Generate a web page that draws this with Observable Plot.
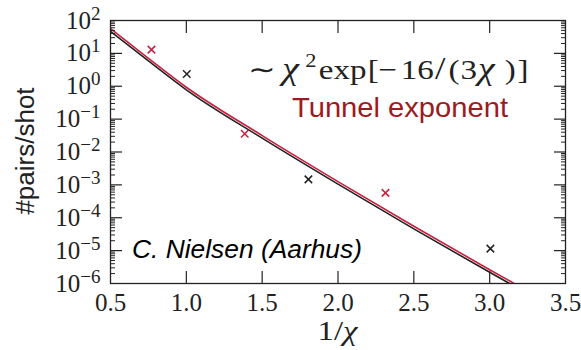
<!DOCTYPE html>
<html><head><meta charset="utf-8">
<script src="https://cdn.jsdelivr.net/npm/d3@7"></script>
<script src="https://cdn.jsdelivr.net/npm/@observablehq/plot@0.6"></script>
<style>body{margin:0;background:#fff}</style>
</head><body><div id="chart"></div>
<script>
// measured points (x = 1/chi)
const redX = [0.77, 1.385, 2.313];
const redY = [13, 0.036, 5.7e-4];
const blackX = [1.003, 1.805, 3.005];
const blackY = [2.36, 1.47e-3, 1.15e-5];
// curves
const curveX = [0.5, 0.75, 1.0, 1.5, 2.0, 2.5, 3.0, 3.17];
const redCurveY = [56.2, 7.08, 0.933, 0.0316, 1.26e-3, 5.5e-5, 2.63e-6, 9.5e-7];
const blackCurveY = [46.8, 5.89, 0.776, 0.0263, 1.05e-3, 4.58e-5, 2.19e-6, 7.9e-7];
// ticks
const xTicks = [0.5, 1.0, 1.5, 2.0, 2.5, 3.0, 3.5];
const yExps = [2, 1, 0, -1, -2, -3, -4, -5, -6];
const minorMult = [2, 3, 4, 5, 6, 7, 8, 9];

const RED = "#c8203e", BLACK = "#222";
const yMajor = yExps.map(e => Math.pow(10, e));
const yMinor = [];
for (const e of yExps.slice(1)) for (const m of minorMult) yMinor.push(m * Math.pow(10, e));

const redPts = redX.map((x, i) => ({x, y: redY[i]}));
const blackPts = blackX.map((x, i) => ({x, y: blackY[i]}));
const redCurve = curveX.map((x, i) => ({x, y: redCurveY[i]}));
const blackCurve = curveX.map((x, i) => ({x, y: blackCurveY[i]}));

const serif = "Liberation Serif";
const sans = "Liberation Sans";

const plot = Plot.plot({
  width: 581, height: 350,
  marginLeft: 110, marginRight: 16, marginTop: 20, marginBottom: 67,
  style: {fontFamily: serif, fontSize: "25px", background: "#fff", color: BLACK},
  x: {domain: [0.5, 3.5]},
  y: {type: "log", domain: [1e-6, 1e2]},
  marks: [
    Plot.line(blackCurve, {x: "x", y: "y", stroke: BLACK, strokeWidth: 1.6, clip: true, curve: "monotone-x"}),
    Plot.line(redCurve, {x: "x", y: "y", stroke: RED, strokeWidth: 1.6, clip: true, curve: "monotone-x"}),
    Plot.dot(redPts, {x: "x", y: "y", symbol: "times", r: 3.5, stroke: RED, strokeWidth: 1.5}),
    Plot.dot(blackPts, {x: "x", y: "y", symbol: "times", r: 3.5, stroke: BLACK, strokeWidth: 1.5}),
    Plot.axisX({ticks: xTicks, tickSize: 0, tickPadding: 10, tickFormat: d3.format(".1f"), label: null, fontSize: 25, fontFamily: serif}),
    Plot.axisX({anchor: "bottom", ticks: xTicks.slice(1, -1), tickSize: -12, tickFormat: () => "", label: null, stroke: BLACK, strokeWidth: 1.2}),
    Plot.axisX({anchor: "top", ticks: xTicks.slice(1, -1), tickSize: -12, tickFormat: () => "", label: null, stroke: BLACK, strokeWidth: 1.2}),
    Plot.axisY({ticks: yMajor, tickSize: 0, tickPadding: 10, tickFormat: d => "10^" + Math.round(Math.log10(d)), label: null, fontSize: 25, fontFamily: serif}),
    Plot.axisY({anchor: "left", ticks: yMajor.slice(1, -1), tickSize: -12, tickFormat: () => "", label: null, stroke: BLACK, strokeWidth: 1.2}),
    Plot.axisY({anchor: "right", ticks: yMajor.slice(1, -1), tickSize: -12, tickFormat: () => "", label: null, stroke: BLACK, strokeWidth: 1.2}),
    Plot.axisY({anchor: "left", ticks: yMinor, tickSize: -5, tickFormat: () => "", label: null, stroke: BLACK, strokeWidth: 1}),
    Plot.axisY({anchor: "right", ticks: yMinor, tickSize: -5, tickFormat: () => "", label: null, stroke: BLACK, strokeWidth: 1}),
    Plot.frame({stroke: BLACK, strokeWidth: 1.3})
  ]
});

const svg = d3.select(plot);
svg.selectAll("g[aria-label$='tick label']").attr("font-family", serif).style("font-family", serif);
// superscript tick labels
svg.selectAll("g[aria-label='y-axis tick label'] text").each(function() {
  const t = d3.select(this);
  const s = t.text();
  if (!s.startsWith("10^")) return;
  const e = s.slice(3).replace("-", "\u2212");
  t.text("");
  t.append("tspan").text("10");
  t.append("tspan").attr("dy", "-9").attr("font-size", "19px").text(e);
});

// y label
svg.append("text")
  .attr("transform", "translate(34,151) rotate(-90)")
  .attr("text-anchor", "middle")
  .attr("font-family", sans).attr("font-size", "26px").attr("fill", BLACK)
  .text("#pairs/shot");
// x label
const xl = svg.append("text")
  .attr("x", 337.5).attr("y", 340).attr("text-anchor", "middle")
  .attr("font-family", serif).attr("font-size", "27px").attr("fill", BLACK)
  .attr("textLength", 40).attr("lengthAdjust", "spacingAndGlyphs");
xl.append("tspan").text("1/");
xl.append("tspan").attr("font-style", "italic").text("\u03c7");
// formula  ~ chi^2 exp[-16/(3 chi)]
const f = svg.append("text")
  .attr("transform", "translate(248,79) scale(1.18,1)")
  .attr("text-anchor", "start")
  .attr("font-family", serif).attr("font-size", "28px").attr("fill", BLACK);
const seg = (txt, xpos, opts = {}) => {
  const t = f.append("tspan").attr("x", xpos).attr("y", opts.y || 0).text(txt);
  if (opts.italic) t.attr("font-style", "italic");
  if (opts.size) t.attr("font-size", opts.size);
  return t;
};
seg("\u223c", 0);
seg("\u03c7", 29, {italic: true, size: "32px"});
seg("2", 48.5, {y: -12, size: "19px"});
seg("exp", 60);
seg("[", 101.5);
seg("\u2212", 110.5);
seg("16", 129.5);
seg("/", 158.5, {size: "32px"});
seg("(", 170);
seg("3", 180);
seg("\u03c7", 195, {italic: true, size: "32px"});
seg(")", 217.5);
seg("]", 228.5);
// labels
svg.append("text")
  .attr("x", 292).attr("y", 117).attr("text-anchor", "start")
  .attr("font-family", sans).attr("font-size", "28px").attr("fill", "#9b1b20")
  .attr("textLength", 216).attr("lengthAdjust", "spacingAndGlyphs")
  .text("Tunnel exponent");
svg.append("text")
  .attr("x", 132).attr("y", 258).attr("text-anchor", "start")
  .attr("font-family", sans).attr("font-size", "26px").attr("font-style", "italic").attr("fill", "#000")
  .attr("textLength", 230).attr("lengthAdjust", "spacingAndGlyphs")
  .text("C. Nielsen (Aarhus)");

document.getElementById("chart").appendChild(plot);
</script>
</body></html>
